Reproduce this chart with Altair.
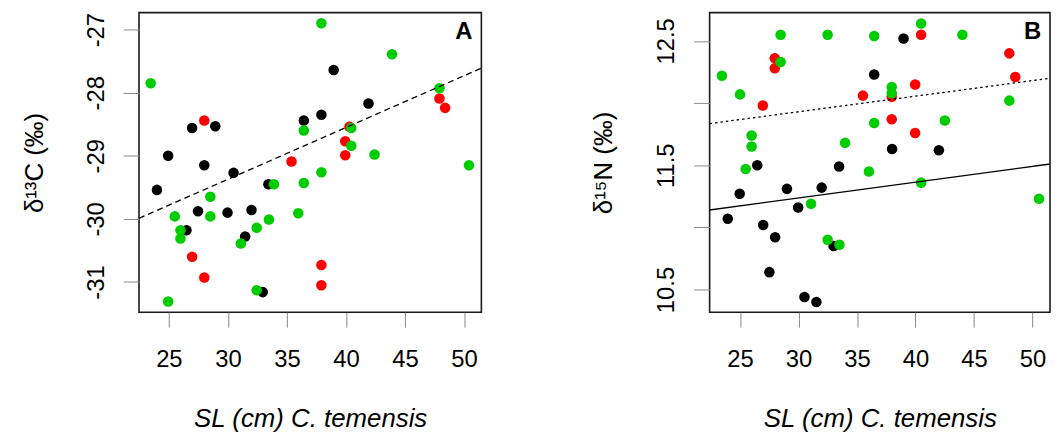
import altair as alt
import pandas as pd

FONT = "Liberation Sans"
COLORS = {"black": "#000000", "red": "#FF0000", "green": "#00CD00"}

# ---------------- Panel A: d13C ----------------
a_black_x = [38.96, 41.91, 37.92, 36.43, 26.97, 28.93, 24.94, 28.0, 30.48, 23.99, 33.43, 27.47, 29.97, 32.0, 26.49, 31.46, 32.95]
a_black_y = [-27.64, -28.17, -28.35, -28.44, -28.56, -28.53, -29.0, -29.15, -29.27, -29.54, -29.45, -29.88, -29.90, -29.86, -30.18, -30.28, -31.16]
a_red_x = [28.0, 47.92, 48.4, 40.3, 39.94, 39.94, 35.39, 26.97, 28.0, 37.92, 37.92]
a_red_y = [-28.44, -28.09, -28.24, -28.54, -28.77, -28.99, -29.09, -30.60, -30.93, -30.73, -31.05]
a_green_x = [23.46, 37.92, 43.9, 47.92, 36.43, 40.45, 40.45, 42.42, 50.42, 37.92, 36.43, 33.9, 28.51, 35.96, 25.5, 28.51, 33.48, 25.98, 25.98, 32.44, 31.1, 32.44, 24.94]
a_green_y = [-27.85, -26.90, -27.39, -27.93, -28.60, -28.56, -28.84, -28.98, -29.15, -29.26, -29.43, -29.45, -29.65, -29.91, -29.96, -29.96, -30.01, -30.18, -30.31, -30.14, -30.39, -31.13, -31.31]
a_line_x = [22.47, 51.47]
a_line_y = [-29.99, -27.61]

# ---------------- Panel B: d15N ----------------
b_black_x = [38.98, 36.47, 38.0, 42.0, 26.47, 33.47, 24.97, 29.01, 31.98, 29.97, 23.95, 26.98, 28.0, 33.0, 27.51, 30.51, 31.53]
b_black_y = [12.52, 12.23, 11.63, 11.62, 11.50, 11.49, 11.27, 11.31, 11.32, 11.16, 11.07, 11.02, 10.92, 10.85, 10.64, 10.44, 10.40]
b_red_x = [40.48, 27.97, 27.97, 48.02, 48.53, 39.97, 35.51, 37.97, 26.95, 37.97, 39.97]
b_red_y = [12.55, 12.36, 12.28, 12.40, 12.21, 12.15, 12.06, 12.05, 11.98, 11.87, 11.76]
b_green_x = [40.48, 28.47, 32.49, 36.47, 44.01, 28.47, 23.45, 25.0, 37.97, 37.97, 48.02, 36.47, 42.51, 25.99, 25.99, 33.98, 25.48, 36.02, 40.48, 50.56, 31.07, 32.49, 33.5]
b_green_y = [12.64, 12.55, 12.55, 12.54, 12.55, 12.33, 12.22, 12.07, 12.13, 12.08, 12.02, 11.84, 11.86, 11.74, 11.65, 11.68, 11.47, 11.45, 11.36, 11.23, 11.19, 10.90, 10.86]
b_solid_x = [22.40, 51.50]
b_solid_y = [11.14, 11.51]
b_dotted_x = [22.40, 51.50]
b_dotted_y = [11.835, 12.20]

x_ticks = [25, 30, 35, 40, 45, 50]
a_y_ticks = [-31, -30, -29, -28, -27]
b_y_ticks = [10.5, 11.0, 11.5, 12.0, 12.5]

H = 302
VIEW = alt.ViewConfig(stroke="#1a1a1a", strokeWidth=1.6)


def points_df(bx, by, rx, ry, gx, gy):
    rows = []
    for g, xs, ys in (("black", bx, by), ("red", rx, ry), ("green", gx, gy)):
        for x, y in zip(xs, ys):
            rows.append({"x": x, "y": y, "g": g})
    df = pd.DataFrame(rows)
    df["i"] = range(len(df))
    return df


def panel(df, lines, xdom, ydom, yticks, ylabel_expr, ytitle, letter, w, title_x):
    xs = alt.Scale(domain=xdom, nice=False, zero=False)
    ys = alt.Scale(domain=ydom, nice=False, zero=False)
    xaxis = alt.Axis(
        values=x_ticks, format="d", tickSize=15, labelPadding=21, grid=False, domain=False,
        labelFontSize=24, labelBaseline="top",
        title="SL (cm) C. temensis", titleFontSize=26, titleFontStyle="italic",
        titleFontWeight="normal", titleBaseline="alphabetic", titleY=115,
    )
    yaxis = alt.Axis(
        values=yticks, labelExpr=ylabel_expr, tickSize=16, labelPadding=20, grid=False, domain=False,
        labelFontSize=24, labelAngle=270, labelAlign="center", labelBaseline="alphabetic",
        title=ytitle, titleFontSize=26, titleFontWeight="normal", titleAngle=270,
        titleAlign="center", titleBaseline="alphabetic", titleX=title_x, titleY=H / 2,
    )
    pts = alt.Chart(df).mark_circle(size=113, opacity=1).encode(
        x=alt.X("x:Q", scale=xs, axis=xaxis),
        y=alt.Y("y:Q", scale=ys, axis=yaxis),
        color=alt.Color("g:N", scale=alt.Scale(domain=list(COLORS), range=list(COLORS.values())), legend=None),
        order=alt.Order("i:Q"),
    )
    layers = [pts]
    for lx, ly, dash in lines:
        ldf = pd.DataFrame({"x": lx, "y": ly})
        kw = dict(color="black", strokeWidth=1.3, clip=True)
        if dash:
            kw["strokeDash"] = dash
        layers.append(alt.Chart(ldf).mark_line(**kw).encode(x="x:Q", y="y:Q"))
    txt = alt.Chart(pd.DataFrame({"t": [letter]})).mark_text(
        font=FONT, fontSize=24, fontWeight="bold", align="right", baseline="alphabetic", color="black"
    ).encode(text="t:N", x=alt.value(w - 9), y=alt.value(27))
    layers.append(txt)
    return alt.layer(*layers).properties(width=w, height=H, view=VIEW)


dfa = points_df(a_black_x, a_black_y, a_red_x, a_red_y, a_green_x, a_green_y)
dfb = points_df(b_black_x, b_black_y, b_red_x, b_red_y, b_green_x, b_green_y)

pa = panel(dfa, [(a_line_x, a_line_y, [6, 4])], [22.47, 51.47], [-31.48, -26.73], a_y_ticks,
           "'' + datum.value", "δ¹³C (‰)", "A", 345, -97)
pb = panel(dfb, [(b_solid_x, b_solid_y, None), (b_dotted_x, b_dotted_y, [2.5, 3])], [22.4, 51.5], [10.317, 12.728],
           b_y_ticks, "(datum.value == 11 || datum.value == 12) ? '' : format(datum.value, '.1f')",
           "δ¹⁵N (‰)", "B", 343, -99)

chart = alt.hconcat(pa, pb, spacing=230, bounds="flush").properties(
    padding={"left": 13, "top": 2, "right": 0, "bottom": 0},
).configure_view(stroke="#1a1a1a", strokeWidth=1.6).configure_axis(
    domain=False, grid=False, tickColor="black", tickWidth=1.3,
    labelFont=FONT, titleFont=FONT, labelColor="black", titleColor="black",
).configure(background="white")

chart.save("out.html", embed_options={"renderer": "svg", "actions": False})
